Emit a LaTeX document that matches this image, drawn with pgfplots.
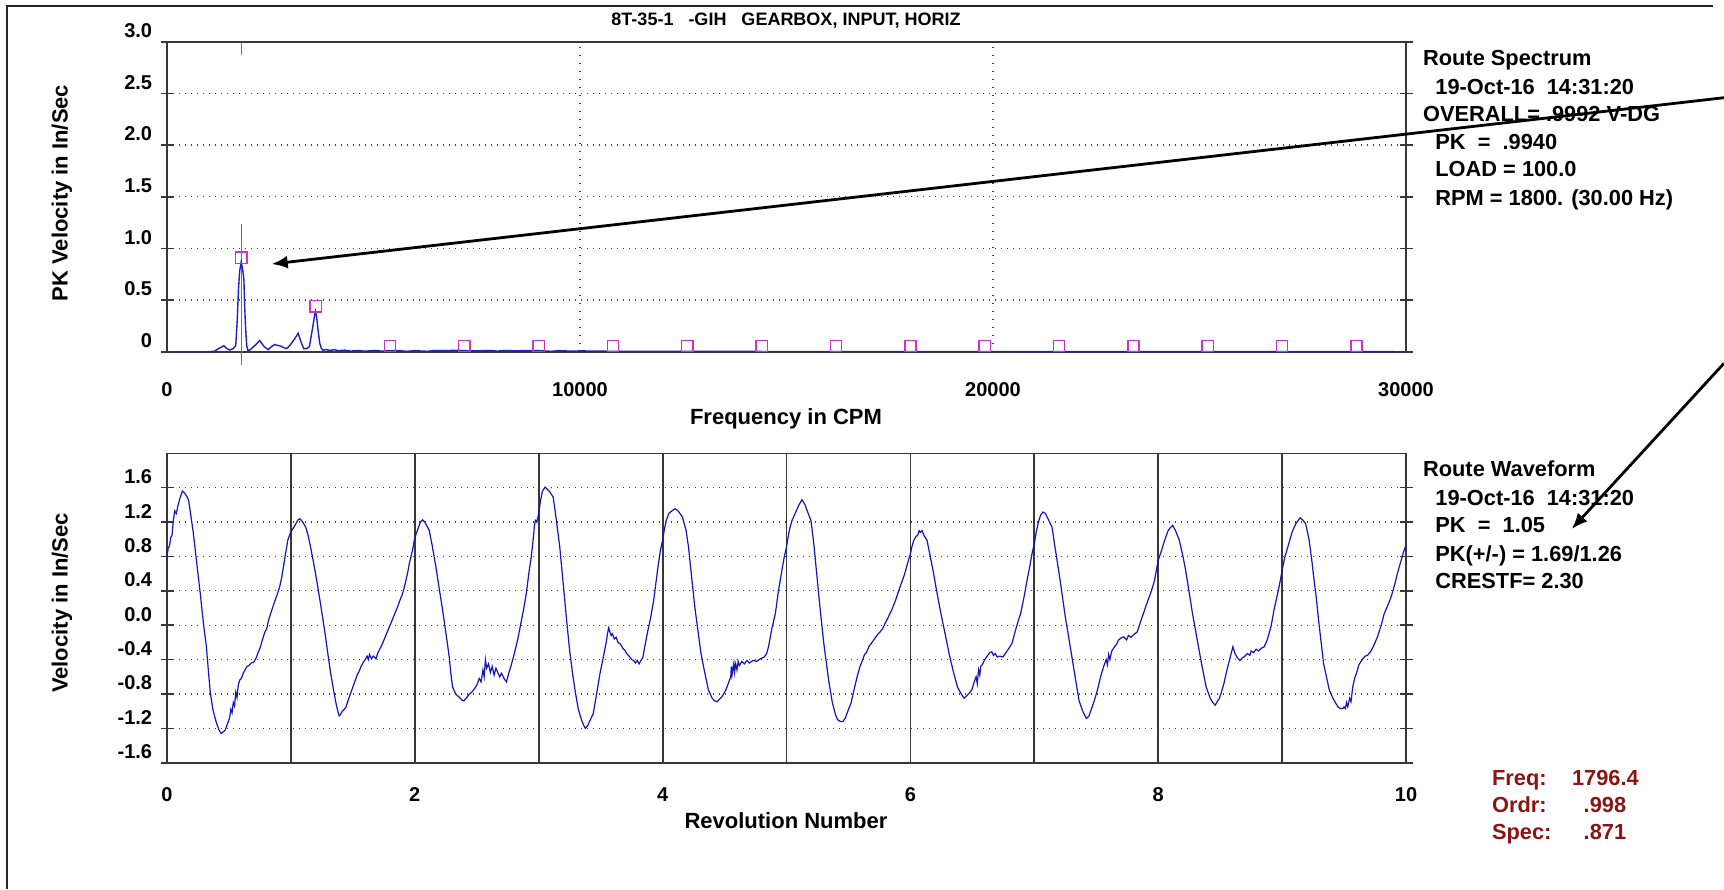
\documentclass[border=0pt]{standalone}
\usepackage{fontspec}
\setmainfont{Liberation Sans}
\usepackage{pgfplots}
\pgfplotsset{compat=1.18}
\usetikzlibrary{arrows.meta}
\definecolor{specblue}{RGB}{30,30,200}
\definecolor{waveblue}{RGB}{20,20,185}
\definecolor{cursor}{RGB}{204,51,204}
\definecolor{darkred}{RGB}{140,20,20}
\definecolor{frame}{RGB}{55,55,55}
\newcommand\rt{\fontsize{10.9}{13}\selectfont\bfseries}
\newcommand\tk{\fontsize{10}{12}\selectfont\bfseries}
\newcommand\lb{\fontsize{11}{13}\selectfont\bfseries}
\pgfplotsset{
  chart/.style={
    scale only axis, width=619.5pt, anchor=north west, clip=false,
    axis line style={frame, line width=0.8pt},
    tick align=center, major tick length=6.5pt,
    ytick style={frame, line width=0.8pt},
    xtick style={draw=none},
    ymajorgrids, xmajorgrids,
    scaled x ticks=false, scaled y ticks=false,
    y grid style={black!75, line width=0.6pt, dash pattern=on 0.6pt off 2.4pt},
    yticklabel style={font=\tk, anchor=east, inner sep=0pt, xshift=-4pt, yshift=5.5pt},
    xticklabel style={font=\tk, anchor=center, inner sep=0pt},
  }
}
\begin{document}
\begin{tikzpicture}
\path[use as bounding box] (0,0) rectangle (862pt,-444.5pt);
\draw[line width=1pt, black!85] (3.5pt,-444.5pt) -- (3.5pt,-3pt) -- (856.5pt,-3pt);

\begin{axis}[chart, at={(83.5pt,-20.85pt)}, height=155pt,
  xmin=0, xmax=30000, ymin=0, ymax=3,
  xtick={0,10000,20000,30000}, xticklabels={0,10000,20000,30000},
  ytick={0,0.5,1,1.5,2,2.5,3}, yticklabels={0,0.5,1.0,1.5,2.0,2.5,3.0},
  x grid style={black!75, line width=0.6pt, dash pattern=on 0.6pt off 3.4pt},
  xticklabel style={yshift=-15.8pt},
]
\addplot[cursor, line width=0.7pt] coordinates {(1800,3.0) (1800,2.87)};
\addplot[cursor, line width=0.7pt] coordinates {(1800,1.24) (1800,-0.13)};
\addplot[specblue, line width=0.7pt] table {
0 0
1000 0
1150 0.005
1250 0.03
1376 0.058
1450 0.03
1518 0.016
1600 0.03
1664 0.06
1700 0.30
1730 0.60
1760 0.78
1797 0.871
1830 0.80
1862 0.70
1880 0.45
1902 0.24
1930 0.06
1960 0.01
2020 0.02
2100 0.05
2247 0.107
2350 0.05
2450 0.02
2530 0.05
2611 0.07
2680 0.06
2750 0.055
2820 0.04
2894 0.03
2950 0.05
3010 0.08
3100 0.13
3175 0.178
3240 0.10
3310 0.03
3380 0.03
3450 0.05
3490 0.15
3530 0.24
3565 0.33
3595 0.39
3625 0.33
3660 0.20
3700 0.08
3740 0.03
3780 0.015
3850 0.02
3950 0.012
4050 0.02
4150 0.01
4300 0.015
4450 0.006
4600 0.012
4800 0.005
5000 0.012
5200 0.006
5600 0.012
5800 0.004
6000 0.01
6300 0.004
6500 0.012
6700 0.01
7000 0.014
7200 0.01
7500 0.008
7800 0.012
8000 0.006
8200 0.012
8500 0.008
8700 0.012
9000 0.01
9300 0.004
9500 0.01
9800 0.005
10000 0.008
11000 0.003
30000 0
};
\addplot[only marks, mark=square, mark size=2.8pt, mark options={cursor, line width=0.7pt}] table {
1800 0.91
3600 0.44
5400 0.055
7200 0.055
9000 0.055
10800 0.055
12600 0.055
14400 0.055
16200 0.055
18000 0.055
19800 0.055
21600 0.055
23400 0.055
25200 0.055
27000 0.055
28800 0.055
};
\end{axis}

\begin{axis}[chart, at={(83.5pt,-226.65pt)}, height=154.7pt,
  xmin=0, xmax=10, ymin=-1.6, ymax=2.0,
  xtick={0,1,2,3,4,5,6,7,8,9,10}, xticklabels={0,,2,,4,,6,,8,,10},
  ytick={-1.6,-1.2,-0.8,-0.4,0,0.4,0.8,1.2,1.6},
  yticklabels={-1.6,-1.2,-0.8,-0.4,0.0,0.4,0.8,1.2,1.6},
  x grid style={frame, line width=0.9pt},
  xticklabel style={yshift=-12.5pt},
]
\addplot[waveblue, line width=0.6pt] table {
0.000 0.80
0.010 0.90
0.020 0.92
0.030 1.02
0.040 1.04
0.050 1.20
0.062 1.33
0.075 1.30
0.090 1.40
0.105 1.48
0.124 1.56
0.140 1.54
0.160 1.50
0.175 1.45
0.190 1.30
0.210 1.10
0.230 0.85
0.250 0.60
0.270 0.35
0.285 0.14
0.300 -0.05
0.318 -0.25
0.335 -0.55
0.350 -0.79
0.370 -0.98
0.384 -1.06
0.400 -1.14
0.420 -1.22
0.438 -1.26
0.455 -1.24
0.470 -1.22
0.490 -1.14
0.505 -1.08
0.515 -0.98
0.525 -1.02
0.535 -0.90
0.545 -0.94
0.555 -0.78
0.565 -0.84
0.575 -0.70
0.586 -0.64
0.600 -0.62
0.615 -0.56
0.630 -0.52
0.645 -0.48
0.660 -0.47
0.680 -0.44
0.700 -0.43
0.720 -0.38
0.735 -0.32
0.750 -0.27
0.770 -0.17
0.790 -0.08
0.805 -0.04
0.820 0.06
0.840 0.15
0.854 0.21
0.870 0.28
0.890 0.36
0.908 0.44
0.925 0.55
0.940 0.68
0.955 0.82
0.965 0.90
0.975 0.99
0.990 1.05
1.000 1.09
1.020 1.13
1.040 1.18
1.055 1.22
1.070 1.24
1.085 1.22
1.100 1.19
1.120 1.14
1.140 1.04
1.160 0.90
1.180 0.75
1.205 0.55
1.230 0.33
1.255 0.10
1.280 -0.14
1.300 -0.35
1.320 -0.55
1.340 -0.72
1.360 -0.88
1.375 -0.98
1.390 -1.055
1.400 -1.04
1.415 -1.00
1.430 -0.98
1.445 -0.95
1.470 -0.84
1.500 -0.72
1.520 -0.64
1.535 -0.58
1.550 -0.54
1.566 -0.48
1.585 -0.43
1.600 -0.40
1.615 -0.36
1.625 -0.40
1.635 -0.34
1.650 -0.39
1.665 -0.36
1.687 -0.39
1.700 -0.33
1.720 -0.27
1.740 -0.21
1.760 -0.14
1.780 -0.07
1.795 -0.02
1.815 0.05
1.840 0.14
1.860 0.21
1.880 0.29
1.900 0.36
1.915 0.44
1.930 0.53
1.945 0.63
1.956 0.72
1.970 0.80
1.985 0.90
1.996 0.99
2.010 1.06
2.025 1.12
2.045 1.20
2.063 1.225
2.080 1.20
2.100 1.15
2.117 1.10
2.140 0.93
2.170 0.68
2.200 0.40
2.225 0.17
2.250 -0.08
2.278 -0.37
2.290 -0.55
2.305 -0.72
2.330 -0.80
2.360 -0.84
2.380 -0.87
2.396 -0.88
2.420 -0.84
2.440 -0.80
2.460 -0.78
2.486 -0.73
2.500 -0.70
2.520 -0.62
2.535 -0.66
2.550 -0.52
2.560 -0.60
2.570 -0.40
2.580 -0.50
2.595 -0.45
2.610 -0.55
2.625 -0.48
2.640 -0.58
2.655 -0.50
2.670 -0.55
2.685 -0.60
2.700 -0.56
2.720 -0.62
2.740 -0.66
2.760 -0.55
2.775 -0.48
2.800 -0.35
2.830 -0.17
2.860 0.05
2.880 0.20
2.900 0.37
2.920 0.60
2.940 0.80
2.955 0.99
2.965 1.15
2.973 1.22
2.985 1.20
3.000 1.30
3.015 1.45
3.030 1.56
3.052 1.607
3.070 1.58
3.090 1.55
3.117 1.49
3.140 1.25
3.170 0.91
3.200 0.45
3.225 0.06
3.250 -0.30
3.275 -0.58
3.297 -0.79
3.320 -0.98
3.345 -1.10
3.365 -1.17
3.377 -1.20
3.395 -1.17
3.410 -1.12
3.440 -1.03
3.465 -0.82
3.495 -0.56
3.520 -0.38
3.545 -0.20
3.555 -0.10
3.565 -0.03
3.575 -0.08
3.585 -0.12
3.595 -0.10
3.610 -0.16
3.625 -0.14
3.640 -0.20
3.660 -0.22
3.680 -0.27
3.694 -0.29
3.710 -0.33
3.730 -0.36
3.750 -0.40
3.766 -0.41
3.780 -0.44
3.795 -0.41
3.810 -0.45
3.825 -0.41
3.840 -0.38
3.856 -0.25
3.880 -0.07
3.905 0.10
3.928 0.29
3.945 0.48
3.960 0.65
3.982 0.87
4.000 0.99
4.015 1.12
4.030 1.22
4.050 1.30
4.075 1.33
4.100 1.355
4.125 1.33
4.160 1.26
4.190 1.10
4.210 0.90
4.235 0.55
4.260 0.21
4.285 -0.06
4.310 -0.33
4.340 -0.55
4.370 -0.755
4.400 -0.85
4.420 -0.88
4.440 -0.89
4.460 -0.86
4.480 -0.83
4.510 -0.755
4.530 -0.68
4.550 -0.60
4.555 -0.48
4.560 -0.58
4.566 -0.52
4.575 -0.44
4.580 -0.55
4.590 -0.45
4.600 -0.52
4.610 -0.42
4.620 -0.47
4.640 -0.42
4.660 -0.45
4.680 -0.41
4.700 -0.44
4.730 -0.41
4.760 -0.42
4.790 -0.39
4.820 -0.37
4.840 -0.33
4.855 -0.25
4.880 -0.05
4.910 0.135
4.935 0.40
4.963 0.64
4.980 0.78
5.000 0.91
5.010 1.00
5.025 1.12
5.045 1.22
5.070 1.30
5.100 1.40
5.125 1.46
5.150 1.40
5.175 1.30
5.197 1.22
5.220 0.95
5.245 0.58
5.270 0.21
5.300 -0.20
5.320 -0.42
5.340 -0.64
5.370 -0.90
5.395 -1.04
5.413 -1.10
5.435 -1.12
5.456 -1.12
5.475 -1.08
5.500 -0.98
5.520 -0.91
5.545 -0.75
5.570 -0.60
5.593 -0.48
5.610 -0.42
5.630 -0.34
5.645 -0.32
5.665 -0.25
5.680 -0.22
5.700 -0.18
5.720 -0.14
5.740 -0.10
5.760 -0.07
5.780 -0.03
5.795 0.02
5.810 0.06
5.830 0.12
5.850 0.18
5.880 0.29
5.910 0.42
5.935 0.52
5.954 0.60
5.970 0.68
5.985 0.76
6.000 0.83
6.010 0.90
6.025 0.98
6.044 1.03
6.060 1.05
6.070 1.10
6.080 1.08
6.095 1.10
6.110 1.04
6.134 0.99
6.160 0.80
6.185 0.62
6.206 0.445
6.240 0.18
6.280 -0.10
6.315 -0.35
6.350 -0.56
6.380 -0.72
6.410 -0.80
6.433 -0.85
6.455 -0.82
6.475 -0.79
6.495 -0.755
6.515 -0.66
6.530 -0.60
6.540 -0.68
6.550 -0.52
6.560 -0.58
6.567 -0.48
6.580 -0.46
6.600 -0.40
6.620 -0.36
6.640 -0.32
6.657 -0.31
6.670 -0.35
6.685 -0.33
6.700 -0.37
6.720 -0.36
6.747 -0.37
6.770 -0.32
6.790 -0.28
6.820 -0.21
6.850 -0.05
6.870 0.05
6.890 0.135
6.920 0.35
6.945 0.55
6.963 0.68
6.980 0.82
7.000 0.95
7.015 1.08
7.030 1.18
7.050 1.28
7.070 1.317
7.090 1.30
7.110 1.24
7.143 1.14
7.170 0.88
7.195 0.65
7.216 0.445
7.250 0.10
7.290 -0.25
7.325 -0.56
7.360 -0.87
7.390 -1.00
7.420 -1.085
7.440 -1.06
7.460 -0.98
7.486 -0.87
7.510 -0.75
7.535 -0.60
7.560 -0.48
7.580 -0.40
7.590 -0.46
7.600 -0.34
7.610 -0.40
7.625 -0.30
7.648 -0.25
7.665 -0.22
7.680 -0.17
7.700 -0.15
7.720 -0.135
7.745 -0.17
7.760 -0.12
7.780 -0.14
7.810 -0.10
7.830 -0.08
7.860 0.05
7.880 0.135
7.900 0.22
7.920 0.30
7.940 0.38
7.955 0.445
7.970 0.52
7.985 0.64
8.000 0.755
8.015 0.82
8.027 0.87
8.050 0.98
8.080 1.10
8.100 1.14
8.117 1.16
8.140 1.10
8.170 0.99
8.200 0.80
8.220 0.65
8.243 0.445
8.275 0.15
8.315 -0.17
8.350 -0.45
8.387 -0.72
8.420 -0.85
8.440 -0.90
8.460 -0.93
8.480 -0.88
8.495 -0.85
8.510 -0.78
8.530 -0.68
8.555 -0.52
8.580 -0.38
8.603 -0.25
8.620 -0.33
8.640 -0.38
8.660 -0.41
8.680 -0.38
8.700 -0.36
8.720 -0.33
8.740 -0.35
8.750 -0.30
8.770 -0.32
8.790 -0.28
8.810 -0.30
8.830 -0.27
8.856 -0.25
8.880 -0.17
8.910 -0.02
8.935 0.18
8.964 0.37
8.980 0.48
9.000 0.64
9.020 0.78
9.040 0.88
9.054 0.95
9.080 1.08
9.110 1.18
9.145 1.25
9.170 1.22
9.190 1.18
9.217 1.00
9.240 0.75
9.260 0.50
9.275 0.33
9.295 0.05
9.315 -0.20
9.335 -0.45
9.355 -0.58
9.380 -0.75
9.410 -0.85
9.430 -0.90
9.450 -0.95
9.470 -0.97
9.490 -0.97
9.500 -0.95
9.510 -0.97
9.520 -0.90
9.530 -0.95
9.545 -0.85
9.556 -0.89
9.570 -0.72
9.585 -0.62
9.600 -0.56
9.620 -0.46
9.646 -0.40
9.670 -0.36
9.690 -0.35
9.718 -0.30
9.745 -0.22
9.770 -0.135
9.800 0.00
9.824 0.135
9.850 0.22
9.880 0.33
9.910 0.48
9.930 0.60
9.960 0.75
9.980 0.85
10.000 0.93
};
\end{axis}

\begin{scope}[x=0.5pt, y=-0.5pt]
\node[anchor=base, inner sep=0pt, font=\fontsize{9}{11}\selectfont\bfseries] at (786,25) {8T-35-1\ \ \ -GIH\ \ \ GEARBOX, INPUT, HORIZ};
\node[anchor=center, rotate=90, inner sep=0pt, font=\lb] at (62,193) {PK Velocity in In/Sec};
\node[anchor=center, rotate=90, inner sep=0pt, font=\lb] at (62,603) {Velocity in In/Sec};
\node[anchor=base, inner sep=0pt, font=\lb] at (786,424) {Frequency in CPM};
\node[anchor=base, inner sep=0pt, font=\lb] at (786,828) {Revolution Number};
\begin{scope}[every node/.style={anchor=base west, inner sep=0pt, font=\rt}]
\node at (1422.7,65.7) {Route Spectrum};
\node at (1435,94) {19-Oct-16\ \ 14:31:20};
\node at (1422.7,121.7) {OVERALL= .9992 V-DG};
\node at (1435,149.3) {PK\ \ =\ \ .9940};
\node at (1435,176.7) {LOAD = 100.0};
\node at (1435,205) {RPM = 1800. (30.00 Hz)};
\node at (1422.7,476.7) {Route Waveform};
\node at (1435,505) {19-Oct-16\ \ 14:31:20};
\node at (1435,532.7) {PK\ \ =\ \ 1.05};
\node at (1435,561) {PK(+/-) = 1.69/1.26};
\node at (1435,588.3) {CRESTF= 2.30};
\end{scope}
\begin{scope}[every node/.style={anchor=base west, inner sep=0pt, font=\rt, text=darkred}]
\node at (1491.7,785.7) {Freq:};
\node at (1491.7,812.7) {Ordr:};
\node at (1491.7,839.3) {Spec:};
\node at (1571.7,785.7) {1796.4};
\node at (1583.3,812.7) {.998};
\node at (1583.3,839.3) {.871};
\end{scope}
\draw[line width=1.4pt, -{Latex[length=8pt,width=6.5pt]}] (1724,97.7) -- (271.7,264);
\draw[line width=1.4pt, -{Latex[length=8pt,width=6.5pt]}] (1724,363.3) -- (1571.7,529);
\end{scope}
\end{tikzpicture}
\end{document}
